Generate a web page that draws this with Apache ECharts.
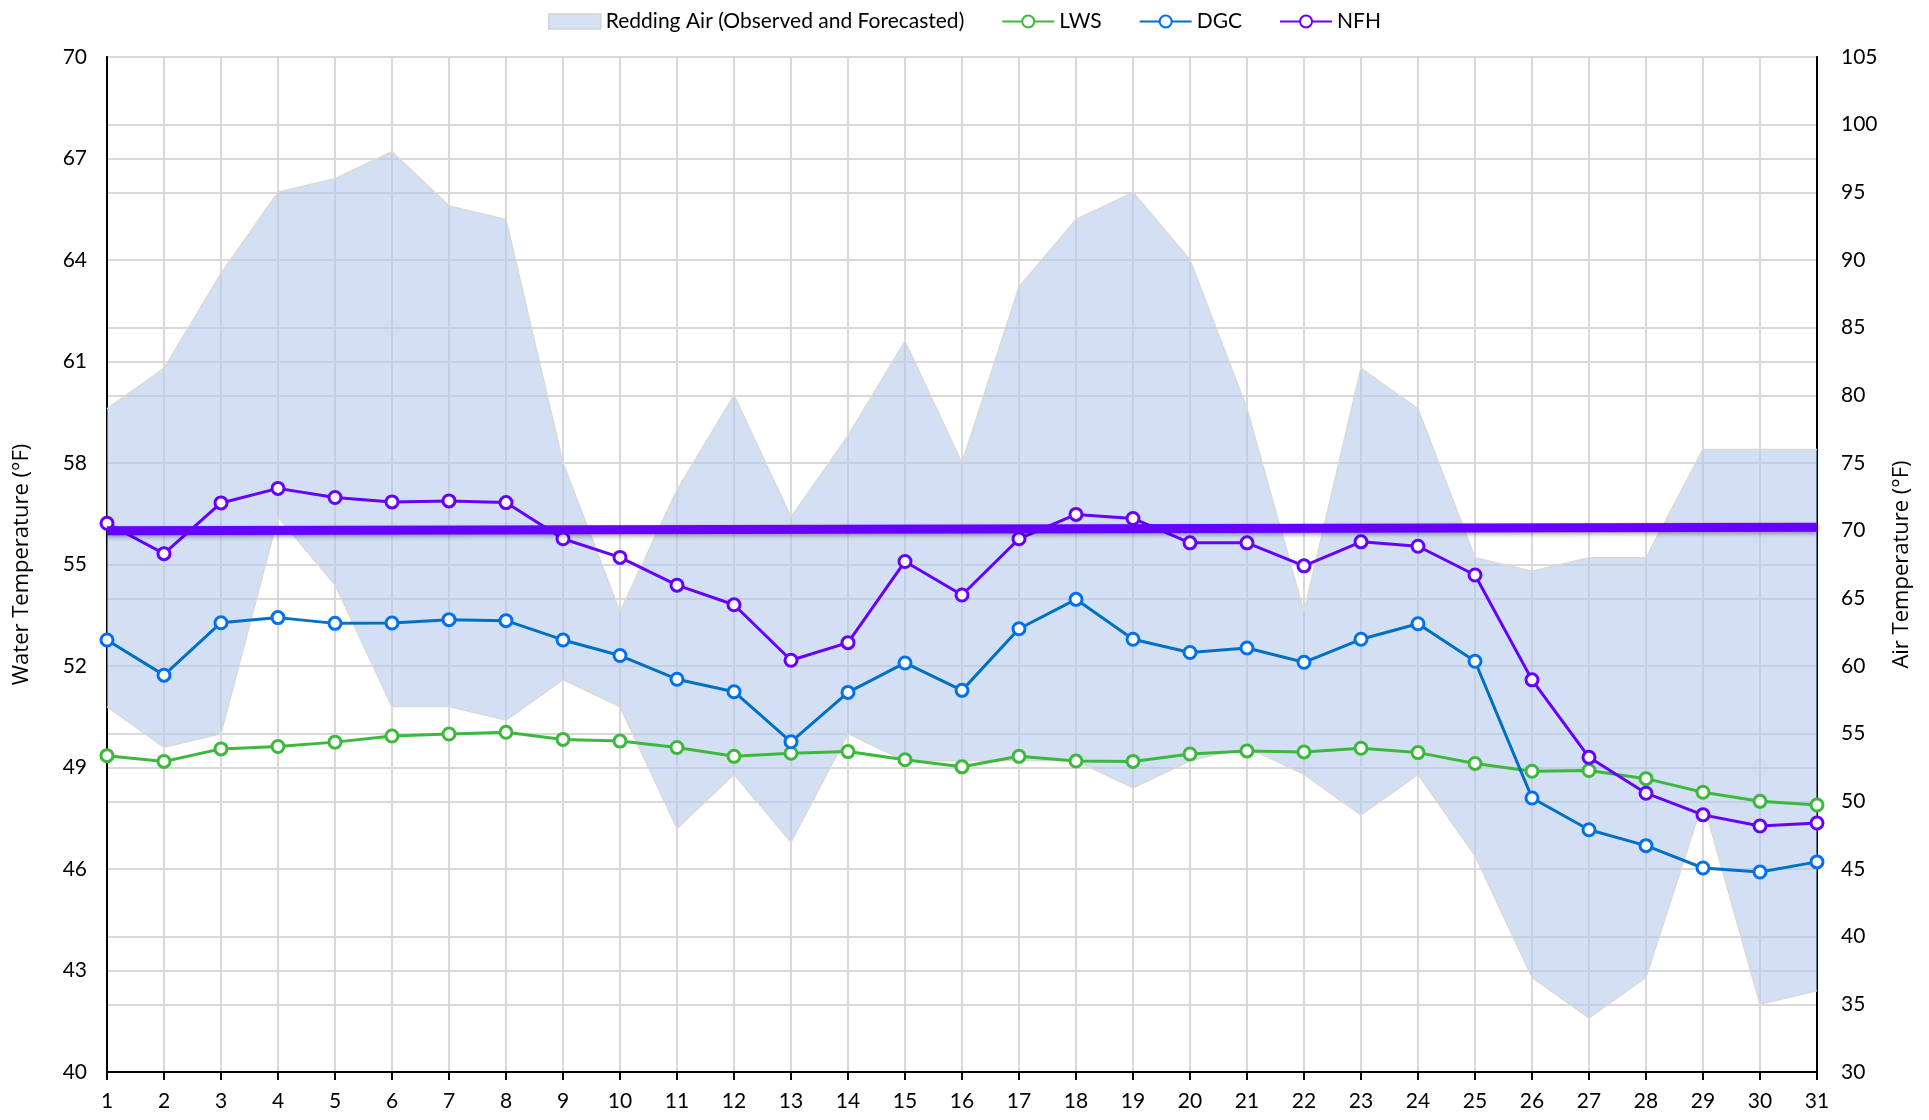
<!DOCTYPE html>
<html>
<head>
<meta charset="utf-8">
<script src="https://cdn.jsdelivr.net/npm/echarts@6/dist/echarts.min.js"></script>
<style>
html,body{margin:0;padding:0;background:#fff;}
#chart{width:1929px;height:1120px;}
</style>
</head>
<body>
<div id="chart"></div>
<script>
const days = ['1','2','3','4','5','6','7','8','9','10','11','12','13','14','15','16','17','18','19','20','21','22','23','24','25','26','27','28','29','30','31'];
const airLow  = [57,54,55,71,66,57,57,56,59,57,48,52,47,55,53,53,53,53,51,53,54,52,49,52,46,37,34,37,50,35,36];
const airHigh = [79,82,89,95,96,98,94,93,75,64,73,80,71,77,84,75,88,93,95,90,79,64,82,79,68,67,68,68,76,76,76];
const lws = [49.35,49.18,49.55,49.62,49.75,49.93,49.99,50.04,49.83,49.78,49.59,49.33,49.42,49.47,49.23,49.02,49.33,49.19,49.18,49.40,49.49,49.46,49.57,49.44,49.12,48.89,48.91,48.67,48.27,48.00,47.89];
const dgc = [52.77,51.73,53.28,53.43,53.26,53.27,53.37,53.34,52.77,52.31,51.61,51.24,49.76,51.22,52.09,51.28,53.10,53.97,52.79,52.40,52.53,52.11,52.79,53.25,52.14,48.10,47.16,46.69,46.03,45.91,46.21];
const nfh = [56.22,55.32,56.82,57.25,56.98,56.85,56.88,56.83,55.76,55.21,54.39,53.81,52.17,52.69,55.09,54.10,55.76,56.48,56.36,55.64,55.64,54.96,55.67,55.54,54.69,51.59,49.30,48.24,47.60,47.27,47.36];
const targetLine = [56.0, 56.1]; // start (day 1) and end (day 31)
const waterTicks = {min:40, max:70, interval:3};
const airTicks = {min:30, max:105, interval:5};

const BAND = 'Redding Air (Observed and Forecasted)';
const airRange = airHigh.map((h,i)=>h-airLow[i]);
const fontTick = 'Lato';
const chart = echarts.init(document.getElementById('chart'));

function lineSeries(name, data, lineColor, markColor){
  return {
    name, type:'line', data, yAxisIndex:0, z:5,
    symbol:'circle', symbolSize:12, showSymbol:true,
    lineStyle:{color:lineColor, width:3},
    itemStyle:{color:'#ffffff', borderColor:markColor, borderWidth:3},
    emphasis:{disabled:true}
  };
}

chart.setOption({
  animation:false,
  backgroundColor:'#ffffff',
  legend:{
    top:6, left:'center', itemGap:37, itemWidth:52, itemHeight:15,
    textStyle:{fontFamily:fontTick, fontSize:21, color:'#000'},
    data:[
      {name:BAND, icon:'rect', itemStyle:{color:'#d6e2f3', borderColor:'#d4d4d4', borderWidth:1.5}},
      {name:'LWS'},{name:'DGC'},{name:'NFH'}
    ]
  },
  grid:{left:107, right:112, top:57, bottom:48, containLabel:false, outerBoundsMode:'none',
        show:true, borderColor:'#000', borderWidth:2, backgroundColor:'transparent'},
  xAxis:{
    type:'category', data:days, boundaryGap:false,
    axisLine:{show:true, lineStyle:{color:'#000', width:2}},
    axisTick:{show:true, alignWithLabel:true, length:8, lineStyle:{color:'#000', width:2}},
    axisLabel:{fontFamily:fontTick, fontSize:21, color:'#000', margin:19},
    splitLine:{show:true, lineStyle:{color:'#d9d9d9', width:2}}
  },
  yAxis:[
    {
      type:'value', min:waterTicks.min, max:waterTicks.max, interval:waterTicks.interval,
      name:'Water Temperature (°F)', nameLocation:'middle', nameGap:74, nameRotate:90,
      nameTextStyle:{fontFamily:'Open Sans', fontSize:22, color:'#000'},
      axisLine:{show:true, lineStyle:{color:'#000', width:2}},
      axisTick:{show:false},
      axisLabel:{fontFamily:fontTick, fontSize:21, color:'#000', margin:20},
      splitLine:{show:true, lineStyle:{color:'#d9d9d9', width:2}}
    },
    {
      type:'value', min:airTicks.min, max:airTicks.max, interval:airTicks.interval, position:'right',
      name:'Air Temperature (°F)', nameLocation:'middle', nameGap:74, nameRotate:90,
      nameTextStyle:{fontFamily:'Open Sans', fontSize:22, color:'#000'},
      axisLine:{show:true, lineStyle:{color:'#000', width:2}},
      axisTick:{show:false},
      axisLabel:{fontFamily:fontTick, fontSize:21, color:'#000', margin:24},
      splitLine:{show:true, lineStyle:{color:'#d9d9d9', width:2}}
    }
  ],
  series:[
    {
      name:'airBase', type:'line', data:airLow, yAxisIndex:1, stack:'air', symbol:'none', z:2,
      lineStyle:{color:'#d9d9d9', width:1.5}, silent:true, emphasis:{disabled:true}
    },
    {
      name:BAND, type:'line', data:airRange, yAxisIndex:1, stack:'air', symbol:'none', z:2,
      lineStyle:{color:'#d9d9d9', width:1.5},
      itemStyle:{color:'#d6e2f3', borderColor:'#d4d4d4'},
      areaStyle:{color:'rgba(180,201,234,0.58)', opacity:1},
      silent:true, emphasis:{disabled:true}
    },
    lineSeries('LWS', lws, '#3cb93c', '#3cb93c'),
    lineSeries('DGC', dgc, '#0070c0', '#0070f0'),
    lineSeries('NFH', nfh, '#6600ff', '#6600ff'),
    {
      name:'target', type:'line', yAxisIndex:0, z:6,
      data:[[0.1, targetLine[0]],[days.length-1, targetLine[1]]],
      symbol:'none', lineStyle:{color:'#6600ff', width:9, shadowColor:'rgba(0,0,0,0.35)', shadowBlur:4, shadowOffsetY:2},
      silent:true, emphasis:{disabled:true}
    }
  ]
});
</script>
</body>
</html>
